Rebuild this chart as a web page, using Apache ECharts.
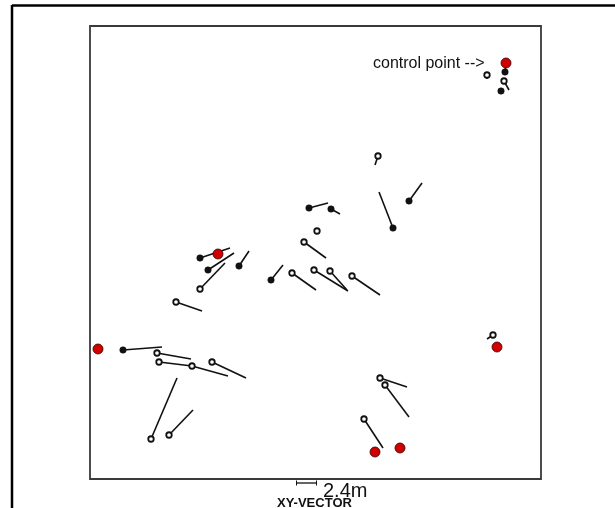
<!DOCTYPE html>
<html>
<head>
<meta charset="utf-8">
<script src="https://cdn.jsdelivr.net/npm/echarts@6/dist/echarts.min.js"></script>
<style>
  html, body { margin: 0; padding: 0; background: #fff; }
  #chart { width: 615px; height: 508px; }
</style>
</head>
<body>
<div id="chart"></div>
<script>
// survey points (grid units), kind: f = filled, o = open
const ptX = [415, 411, 303, 319, 219, 241, 110, 118, 149, 181, 33,
  397, 414, 288, 227, 214, 110, 202, 224, 240, 262, 86, 67, 69, 102, 122, 61, 79, 403, 290, 295, 274];
const ptY = [407, 388, 251, 278, 271, 270, 221, 209, 213, 199, 129,
  404, 398, 323, 248, 237, 190, 206, 209, 208, 203, 177, 126, 117, 113, 117, 40, 44, 144, 101, 94, 60];
const vecX = [1, 0, -14, 13, 19, 9, 30, 26, 10, 12, 39,
  0, 5, -3, 0, 22, 25, 24, 34, 17, 28, 26, 34, 33, 36, 34, 26, 24, -6, 27, 24, 19];
const vecY = [8, 0, 36, 18, 5, -5, 10, 17, 15, 15, 3,
  -4, -9, -9, 0, -16, 26, -17, -21, -19, -19, -9, -6, -4, -10, -16, 61, 25, -4, -9, -32, -29];
const ptKind = ['f', 'f', 'f', 'f', 'f', 'f', 'f', 'f', 'f', 'f', 'f',
  'o', 'o', 'o', 'o', 'o', 'o', 'o', 'o', 'o', 'o', 'o', 'o', 'o', 'o', 'o', 'o', 'o', 'o', 'o', 'o', 'o'];

// control points
const ctrlX = [416, 128, 8, 407, 285, 310];
const ctrlY = [416, 225, 130, 132, 27, 31];

const scaleLabel = "2.4m";
const vecTitle = "XY-VECTOR";
const ctrlLabel = "control point -->";

const chart = echarts.init(document.getElementById("chart"), null, { renderer: "canvas" });

const vecData = ptX.map((x, i) => [x, ptY[i], vecX[i], vecY[i]]);
const openPts = [], fillPts = [];
ptX.forEach((x, i) => {
  (ptKind[i] === "o" ? openPts : fillPts).push([x, ptY[i]]);
});
const ctrlPts = ctrlX.map((x, i) => [x, ctrlY[i]]);

const option = {
  animation: false,
  backgroundColor: "#fff",
  grid: {
    left: 90, top: 26, width: 451, height: 453,
    show: true, borderColor: "#3a3a3a", borderWidth: 1.8, backgroundColor: "transparent"
  },
  xAxis: { type: "value", min: 0, max: 451, show: false },
  yAxis: { type: "value", min: 0, max: 453, show: false },
  series: [
    {
      type: "custom",
      data: vecData,
      renderItem: (params, api) => {
        const a = api.coord([api.value(0), api.value(1)]);
        const b = api.coord([api.value(0) + api.value(2), api.value(1) + api.value(3)]);
        return {
          type: "line",
          shape: { x1: a[0], y1: a[1], x2: b[0], y2: b[1] },
          style: { stroke: "#111", lineWidth: 1.6 }
        };
      },
      z: 1
    },
    {
      type: "scatter",
      data: openPts,
      symbol: "circle",
      symbolSize: 5.5,
      itemStyle: { color: "#fff", borderColor: "#111", borderWidth: 1.8, opacity: 1 },
      z: 2
    },
    {
      type: "scatter",
      data: fillPts,
      symbol: "circle",
      symbolSize: 6.5,
      itemStyle: { color: "#111", borderColor: "#111", borderWidth: 0.5, opacity: 1 },
      z: 2
    },
    {
      type: "scatter",
      data: ctrlPts,
      symbol: "circle",
      symbolSize: 10,
      itemStyle: { color: "#d00000", borderColor: "#300", borderWidth: 0.8, opacity: 1 },
      z: 3
    }
  ],
  graphic: [
    // outer frame
    { type: "line", shape: { x1: 12, y1: 5, x2: 12, y2: 508 }, style: { stroke: "#000", lineWidth: 2.5 } },
    { type: "line", shape: { x1: 12, y1: 5.5, x2: 615, y2: 5.5 }, style: { stroke: "#000", lineWidth: 2.5 } },
    // label
    {
      type: "text", left: 373, top: 56,
      style: { text: ctrlLabel, font: "16px 'Liberation Sans', Arial, sans-serif", fill: "#111" }
    },
    // scale bar
    { type: "line", shape: { x1: 296, y1: 483, x2: 317, y2: 483 }, style: { stroke: "#111", lineWidth: 1.3 } },
    { type: "line", shape: { x1: 296.5, y1: 480.5, x2: 296.5, y2: 485.5 }, style: { stroke: "#111", lineWidth: 1 } },
    { type: "line", shape: { x1: 316.5, y1: 480.5, x2: 316.5, y2: 485.5 }, style: { stroke: "#111", lineWidth: 1 } },
    {
      type: "text", left: 323, top: 481,
      style: { text: scaleLabel, font: "20px 'Liberation Sans', Arial, sans-serif", fill: "#111" }
    },
    {
      type: "text", left: 277, top: 497,
      style: { text: vecTitle, font: "bold 13px 'Liberation Sans', Arial, sans-serif", fill: "#111" }
    }
  ]
};

chart.setOption(option);
</script>
</body>
</html>
